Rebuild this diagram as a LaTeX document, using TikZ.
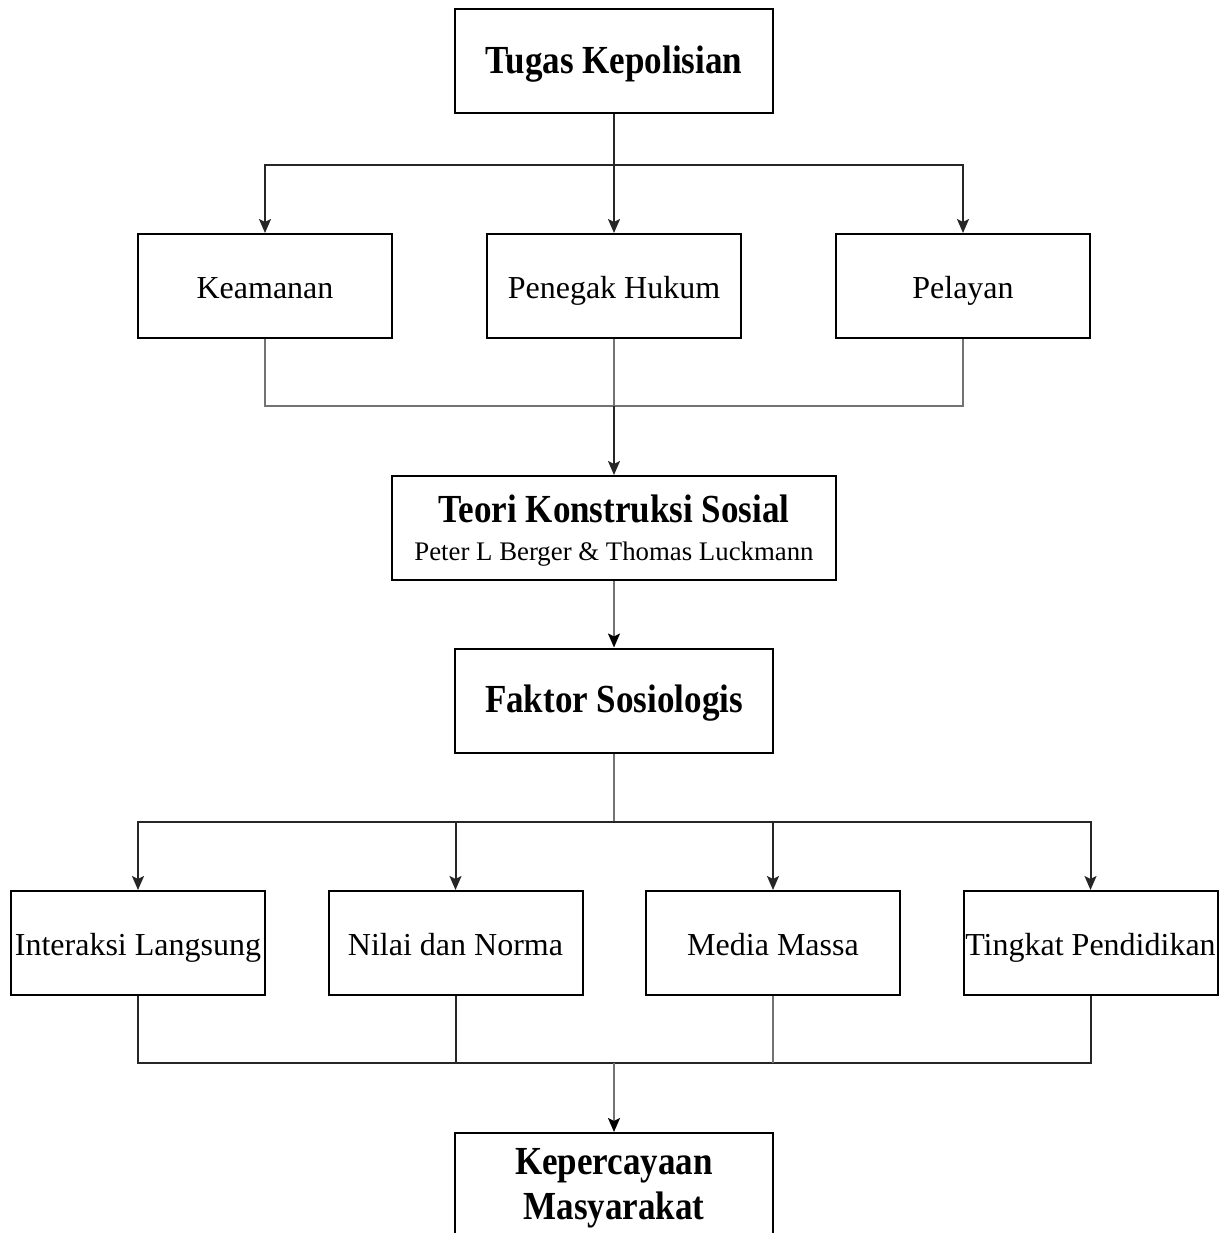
\documentclass[tikz,border=0pt]{standalone}
\usepackage{fontspec}
\setmainfont{Liberation Serif}[BoldFeatures={FakeStretch=0.88}]
\usetikzlibrary{arrows.meta,positioning}

\begin{document}
\begin{tikzpicture}[x=0.5pt,y=-0.5pt,
  box/.style={draw,line width=1pt,inner sep=0pt,align=center,
    minimum height=52pt,text height=14pt,text depth=2pt,
    font=\fontsize{16}{19}\selectfont},
  big/.style={box,minimum width=159pt,font=\bfseries\fontsize{19.9}{22.5}\selectfont},
  small/.style={box,minimum width=127pt},
  conn/.style={line width=1pt,black!85},
  grey/.style={line width=1pt,black!55},
  arr/.style={conn,-{Stealth[length=7pt,width=6pt,inset=1.5pt]}},
  garr/.style={grey,-{Stealth[length=7pt,width=6pt,inset=1.5pt,black]}}]
  \useasboundingbox (0,0) rectangle (1232,1233);
  \node[big] (tugas) at (614,61) {Tugas Kepolisian};
  \node[small] (keamanan) at (265,286) {Keamanan};
  \node[small] (penegak) at (614,286) {Penegak Hukum};
  \node[small] (pelayan) at (963,286) {Pelayan};
  \node[box,minimum width=222pt,text height=32pt,text depth=0pt] (teori) at (614,528)
    {{\bfseries\fontsize{19.9}{19}\selectfont Teori Konstruksi Sosial}\\
     {\fontsize{13.4}{19}\selectfont Peter L Berger \& Thomas Luckmann}};
  \node[big] (faktor) at (614,700.5) {Faktor Sosiologis};
  \node[small] (interaksi) at (138,943) {Interaksi Langsung};
  \node[small] (nilai) at (455.5,943) {Nilai dan Norma};
  \node[small] (media) at (773,943) {Media Massa};
  \node[small] (tingkat) at (1090.5,943) {Tingkat Pendidikan};
  \node[big,text height=34.5pt,text depth=0pt] (percaya) at (614,1185) {Kepercayaan\\Masyarakat};
  \coordinate (busA) at (614,165);
  \coordinate (busB) at (614,406);
  \coordinate (busC) at (614,822);
  \coordinate (busD) at (614,1063);
  \draw[arr] (tugas.south) -- (busA) -| (keamanan.north);
  \draw[arr] (busA) -| (pelayan.north);
  \draw[arr] (busA) -- (penegak.north);
  \draw[grey] (keamanan.south) |- (busB) -| (pelayan.south);
  \draw[grey] (penegak.south) -- (busB);
  \draw[arr] (busB) -- (teori.north);
  \draw[garr] (teori.south) -- (faktor.north);
  \draw[grey] (faktor.south) -- (busC);
  \draw[arr] (busC) -| (interaksi.north);
  \draw[arr] (busC) -| (tingkat.north);
  \draw[arr] (nilai.north |- busC) -- (nilai.north);
  \draw[arr] (media.north |- busC) -- (media.north);
  \draw[conn] (interaksi.south) |- (busD) -| (tingkat.south);
  \draw[conn] (nilai.south) -- (nilai.south |- busD);
  \draw[grey] (media.south) -- (media.south |- busD);
  \draw[garr] (busD) -- (percaya.north);
\end{tikzpicture}
\end{document}
